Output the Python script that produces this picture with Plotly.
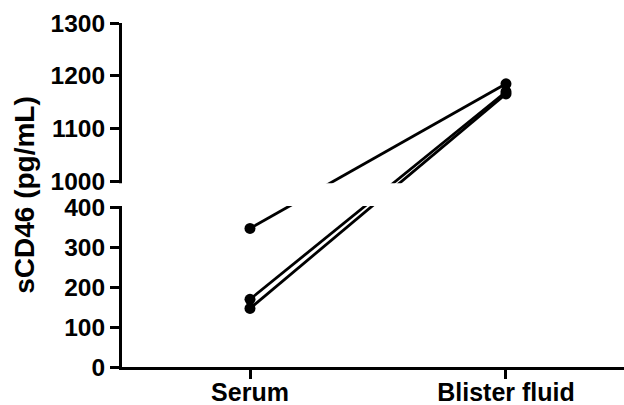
import plotly.graph_objects as go

# ---- data ----
groups = ["Serum", "Blister fluid"]
serum = [348, 170, 147]
blister = [1185, 1170, 1166]
lower_ticks = [0, 100, 200, 300, 400]
upper_ticks = [1000, 1100, 1200, 1300]
y_title = "sCD46 (pg/mL)"

# ---- broken-axis transform (lower 0-400, upper 1000-1300) ----
LOW_MAX, HIGH_MIN, HIGH_MAX = 400, 1000, 1300
LOW_SPAN, GAP, HIGH_SPAN = 159.0, 26.0, 158.4


def brk(v):
    if v <= LOW_MAX:
        return v / LOW_MAX * LOW_SPAN
    return LOW_SPAN + GAP + (v - HIGH_MIN) / (HIGH_MAX - HIGH_MIN) * HIGH_SPAN


FONT = "Liberation Sans, Arial, sans-serif"
fig = go.Figure()
for s, b in zip(serum, blister):
    fig.add_trace(go.Scatter(
        x=groups, y=[brk(s), brk(b)], mode="lines+markers",
        line=dict(color="black", width=2.8),
        marker=dict(color="black", size=11),
        showlegend=False, cliponaxis=False,
    ))

tick_vals = [brk(v) for v in lower_ticks + upper_ticks]
tick_text = [str(v) for v in lower_ticks + upper_ticks]

fig.update_layout(
    width=624, height=405,
    margin=dict(l=122, r=0, t=23, b=38),
    plot_bgcolor="white", paper_bgcolor="white",
    xaxis=dict(
        type="category", range=[-0.5, 1.461], automargin=False,
        showline=True, linecolor="black", linewidth=3,
        ticks="outside", ticklen=9, tickwidth=3, tickcolor="black",
        ticklabelstandoff=-8,
        showgrid=False, zeroline=False,
        tickfont=dict(family=FONT, size=25, color="black", weight="bold"),
    ),
    yaxis=dict(
        range=[0, brk(HIGH_MAX)], automargin=False,
        tickmode="array", tickvals=tick_vals, ticktext=tick_text,
        showline=True, linecolor="black", linewidth=3,
        ticks="outside", ticklen=9, tickwidth=3, tickcolor="black",
        showgrid=False, zeroline=False,
        tickfont=dict(family=FONT, size=24.5, color="black", weight="bold"),
        title=dict(text=y_title, standoff=8,
                   font=dict(family=FONT, size=28, color="black", weight="bold")),
    ),
    shapes=[dict(
        type="rect", xref="paper", yref="y",
        x0=-0.007, x1=1.0,
        y0=brk(LOW_MAX) + 1.6, y1=brk(HIGH_MIN) - 1.6,
        fillcolor="white", line=dict(width=0), layer="above",
    )],
)

fig.write_html(
    "out.html",
    config={"responsive": False, "displayModeBar": False},
    post_script="document.body.style.margin='0px';",
)
